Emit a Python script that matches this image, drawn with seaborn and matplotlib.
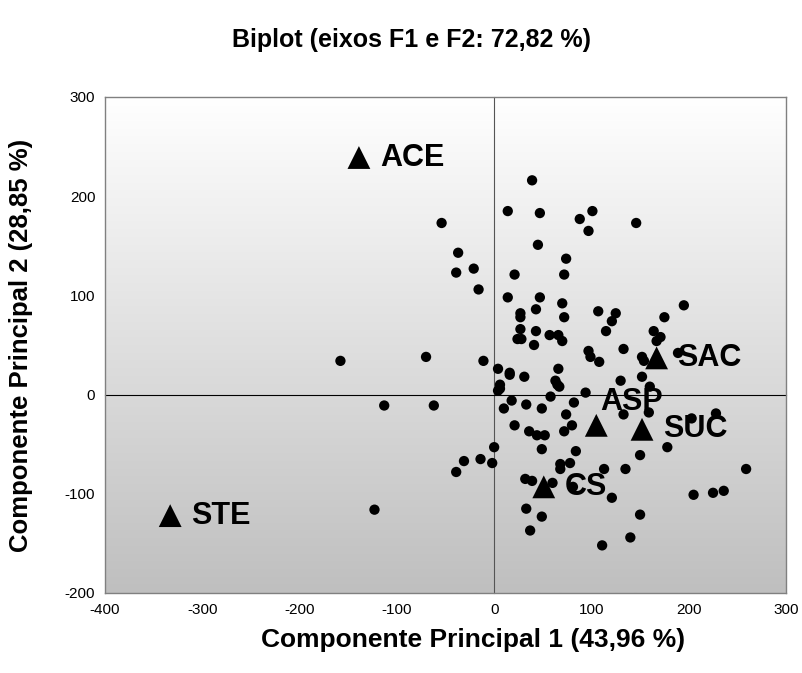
import numpy as np
import pandas as pd
import matplotlib
matplotlib.use("Agg")
import matplotlib.pyplot as plt
from matplotlib.colors import LinearSegmentedColormap
import seaborn as sns

# ------------------------
# data
# ------------------------
pc1 = [39, 14, 47, -54, 88, 101, 97, 146, -37, 45, 74, -39, -21, 21, 72, -16,
       14, 47, 70, 195, 43, 107, 125, 27, 27, 72, 121, 175, 27, 43, 115, 164,
       57, 66, 70, 24, 28, 171, 167, 41, -70, -11, 97, 99, 108, 133, 152, 154,
       189, -158, 4, 16, 16, 31, 66, 63, 65, 67, 6, 6, 4, 94, 130, 152, 160,
       -113, -62, 18, 10, 33, 49, 58, 82, 74, 80, 72, 21, 36, 44, 52, 49, 84,
       0, -14, -31, -39, -2, 68, 68, 78, 32, 39, 60, 81, 121, 113, 135, 150,
       150, 140, 111, 33, 49, 37, -123, 159, 133, 203, 228, 178, 259, 205,
       225, 236]
pc2 = [216, 185, 183, 173, 177, 185, 165, 173, 143, 151, 137, 123, 127, 121,
       121, 106, 98, 98, 92, 90, 86, 84, 82, 82, 78, 78, 74, 78, 66, 64, 64,
       64, 60, 60, 54, 56, 56, 58, 54, 50, 38, 34, 44, 38, 33, 46, 38, 34, 42,
       34, 26, 22, 20, 18, 26, 14, 10, 8, 10, 6, 4, 2, 14, 18, 8, -11, -11, -6,
       -14, -10, -14, -2, -8, -20, -31, -37, -31, -37, -41, -41, -55, -57, -53,
       -65, -67, -78, -69, -70, -75, -69, -85, -87, -89, -93, -104, -75, -75,
       -61, -121, -144, -152, -115, -123, -137, -116, -18, -20, -24, -19, -53,
       -75, -101, -99, -97]

sweeteners = ["ACE", "STE", "SAC", "ASP", "SUC", "CS"]
sw_pc1 = [-139, -333, 167, 105, 152, 51]
sw_pc2 = [239, -122, 37, -31, -35, -93]

xticks = [-400, -300, -200, -100, 0, 100, 200, 300]
yticks = [-200, -100, 0, 100, 200, 300]

obs = pd.DataFrame({"F1": pc1, "F2": pc2})
var = pd.DataFrame({"name": sweeteners, "F1": sw_pc1, "F2": sw_pc2})

# label offsets in points (ASP sits above its marker)
label_offset = {"ASP": (3, 17)}

# ------------------------
# figure
# ------------------------
sns.set_style("white")
plt.rcParams["font.family"] = ["Liberation Sans", "DejaVu Sans"]
plt.rcParams["text.color"] = "black"
plt.rcParams["axes.labelcolor"] = "black"
plt.rcParams["xtick.color"] = "black"
plt.rcParams["ytick.color"] = "black"
plt.rcParams["axes.unicode_minus"] = False

fig = plt.figure(figsize=(8.03, 6.73), dpi=100)
rect = [105 / 803, 1 - 593 / 673, 681 / 803, 496 / 673]

# background axes: gradient + axes crossing at zero
ax_bg = fig.add_axes(rect)
grad = np.linspace(0, 1, 256).reshape(-1, 1)
cmap = LinearSegmentedColormap.from_list("bg", ["#bfbfbf", "#ffffff"])
ax_bg.imshow(grad, cmap=cmap, aspect="auto", origin="lower",
             extent=(xticks[0], xticks[-1], yticks[0], yticks[-1]), zorder=0)
ax_bg.spines["left"].set_position(("data", 0))
ax_bg.spines["bottom"].set_position(("data", 0))
ax_bg.spines["left"].set_color("#555555")
ax_bg.spines["bottom"].set_color("black")
ax_bg.spines["top"].set_visible(False)
ax_bg.spines["right"].set_visible(False)
ax_bg.set_xticks(xticks)
ax_bg.set_yticks(yticks)
ax_bg.tick_params(direction="inout", length=9, width=1, color="black",
                  labelleft=False, labelbottom=False)
ax_bg.set_xlim(xticks[0], xticks[-1])
ax_bg.set_ylim(yticks[0], yticks[-1])

# front axes: points, labels, frame
ax = fig.add_axes(rect)
ax.set_facecolor("none")
sns.scatterplot(data=obs, x="F1", y="F2", ax=ax, color="black", s=55,
                edgecolor="none", zorder=3)
sns.scatterplot(data=var, x="F1", y="F2", ax=ax, color="black", marker="^",
                s=270, edgecolor="none", zorder=4)
for name, x, y in zip(var["name"], var["F1"], var["F2"]):
    off = label_offset.get(name, (15, 0))
    ax.annotate(name, (x, y), xytext=off, textcoords="offset points",
                ha="left", va="center", fontsize=22, fontweight="bold",
                color="black", zorder=5)

ax.set_xlim(xticks[0], xticks[-1])
ax.set_ylim(yticks[0], yticks[-1])
ax.set_xticks(xticks)
ax.set_yticks(yticks)
ax.tick_params(length=0, labelsize=11, pad=7)
for sp in ax.spines.values():
    sp.set_color("#808080")
    sp.set_linewidth(1)

ax.set_xlabel("Componente Principal 1 (43,96 %)", fontsize=19,
              fontweight="bold")
ax.set_ylabel("Componente Principal 2 (28,85 %)", fontsize=18.5,
              fontweight="bold")
ax.xaxis.set_label_coords(0.54, -0.07)
ax.yaxis.set_label_coords(-0.105, 0.5)

fig.text(0.512, 1 - 40 / 673, "Biplot (eixos F1 e F2: 72,82 %)",
         ha="center", va="center", fontsize=18, fontweight="bold")

fig.savefig("out.png", dpi=100)
